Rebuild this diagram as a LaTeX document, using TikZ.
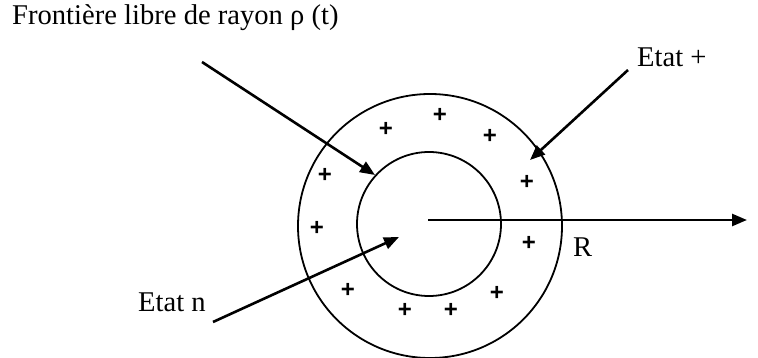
\documentclass[tikz,border=0pt]{standalone}
\usepackage{fontspec}
\setmainfont{Liberation Serif}
\setsansfont{Liberation Sans}
\usetikzlibrary{arrows.meta}
\begin{document}
\begin{tikzpicture}[x=1pt,y=-1pt,
  lbl/.style={inner sep=0pt,anchor=base west,font=\fontsize{28.6}{30}\selectfont},
  pl/.style={inner sep=0pt,font=\sffamily\bfseries\fontsize{24}{26}\selectfont},
  ring/.style={line width=1.8pt},
  arr/.style={line width=2.6pt,-{Triangle[length=15pt,width=12pt]}}]
\useasboundingbox (0,0) rectangle (758,358);
\draw[ring] (430,226) circle (132);
\draw[ring] (429,224) circle (72);
\node[lbl] (front) at (12,25) {Frontière libre de rayon ρ (t)};
\node[lbl] (etp) at (637,67) {Etat +};
\node[lbl] (etn) at (138,312) {Etat n};
\node[lbl] (r) at (573,257) {R};
\coordinate (a1s) at (202,62);
\coordinate (a1e) at (375,175);
\coordinate (a2s) at (628,70);
\coordinate (a2e) at (530,160);
\coordinate (a3s) at (213,322);
\coordinate (a3e) at (399,237);
\coordinate (c) at (428,220);
\coordinate (re) at (747,220);
\draw[arr] (a1s) -- (a1e);
\draw[arr] (a2s) -- (a2e);
\draw[arr] (a3s) -- (a3e);
\draw[arr] (c) -- (re);
\foreach \x/\y [count=\i] in {440/115,386/129,490/136,325/175,527/182,317/228,529/243,348/290,497/293,405/310,451/310}
  \node[pl] (p\i) at (\x,\y) {+};
\end{tikzpicture}
\end{document}
